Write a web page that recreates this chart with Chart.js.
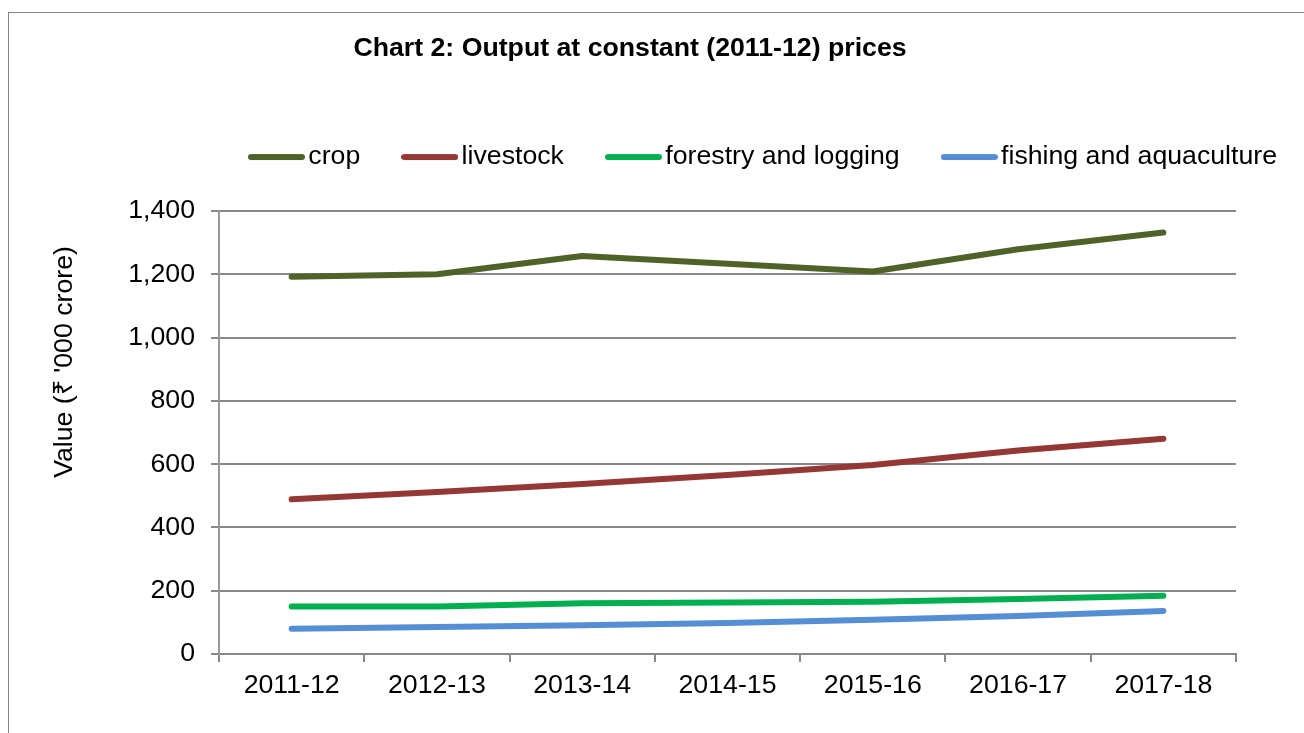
<!DOCTYPE html>
<html><head><meta charset="utf-8">
<script src="https://cdn.jsdelivr.net/npm/chart.js@4"></script>
<style>
html,body{margin:0;padding:0;background:#fff;overflow:hidden}
#wrap{position:relative;width:1304px;height:733px}
#frame{position:absolute;left:8px;top:12px;width:1400px;height:800px;border:1px solid #868686;box-sizing:border-box}
canvas{position:absolute;left:0;top:0}
</style></head><body>
<div id="wrap"><div id="frame"></div><canvas id="c" width="1304" height="733"></canvas></div>
<script>
const titleText = 'Chart 2: Output at constant (2011-12) prices';
const yAxisTitle = "Value (\u20B9 '000 crore)";
const categories = ['2011-12', '2012-13', '2013-14', '2014-15', '2015-16', '2016-17', '2017-18'];
const seriesNames = ['crop', 'livestock', 'forestry and logging', 'fishing and aquaculture'];
const crop = [1192, 1200, 1258, 1233, 1209, 1279, 1332];
const livestock = [489, 512, 537, 566, 597, 643, 680];
const forestry = [150, 150, 160, 163, 165, 174, 184];
const fishing = [80, 85, 91, 98, 108, 120, 136];
const yTicks = [0, 200, 400, 600, 800, 1000, 1200, 1400];
const seriesColors = ['#4F6228', '#953735', '#00B050', '#558ED5'];

const FONT = '"Liberation Sans", Arial, sans-serif';
const FS = 26.7;

function swatch(color) {
  const c = document.createElement('canvas');
  c.width = 57; c.height = 8;
  const g = c.getContext('2d');
  g.strokeStyle = color;
  g.lineWidth = 6;
  g.lineCap = 'round';
  g.beginPath();
  g.moveTo(3, 4);
  g.lineTo(54, 4);
  g.stroke();
  return c;
}

const placeBoxes = {
  id: 'placeBoxes',
  afterLayout(chart) {
    const t = chart.titleBlock;
    if (t) { t.left += 12; t.right += 12; t.top += 1; t.bottom += 1; }
    const l = chart.legend;
    if (l) { l.left += 207; l.right += 207; l.top -= 30.6; l.bottom -= 30.6; }
  },
  afterDraw(chart) {
    const ctx = chart.ctx;
    ctx.save();
    ctx.translate(65, 362);
    ctx.rotate(-Math.PI / 2);
    ctx.font = FS + 'px ' + FONT;
    ctx.fillStyle = '#000';
    ctx.textAlign = 'center';
    ctx.textBaseline = 'middle';
    ctx.fillText(yAxisTitle, 0, 0);
    ctx.restore();
  }
};

const allSeries = [crop, livestock, forestry, fishing];
const datasets = allSeries.map((vals, i) => ({
  label: seriesNames[i],
  data: vals,
  borderColor: seriesColors[i],
  backgroundColor: seriesColors[i],
  borderWidth: 6,
  pointRadius: 0,
  pointHoverRadius: 0,
  borderCapStyle: 'round',
  borderJoinStyle: 'round',
  tension: 0,
  fill: false
}));

new Chart(document.getElementById('c'), {
  type: 'line',
  data: { labels: categories, datasets },
  options: {
    responsive: false,
    animation: false,
    devicePixelRatio: 1,
    layout: { padding: { top: 0, left: 0, right: 68, bottom: 0 } },
    plugins: {
      title: {
        display: true,
        text: titleText,
        color: '#000',
        font: { family: FONT, size: FS, weight: 'bold' },
        padding: { top: 31.98, bottom: 59.28 }
      },
      legend: {
        display: true,
        position: 'top',
        align: 'start',
        labels: {
          color: '#000',
          font: { family: FONT, size: FS },
          usePointStyle: true,
          pointStyleWidth: 37,
          boxWidth: 37,
          boxHeight: 6,
          padding: 51,
          generateLabels(chart) {
            return chart.data.datasets.map((ds, i) => ({
              text: ds.label,
              fillStyle: ds.borderColor,
              strokeStyle: ds.borderColor,
              lineWidth: 0,
              hidden: false,
              datasetIndex: i,
              pointStyle: swatch(ds.borderColor)
            }));
          }
        }
      },
      tooltip: { enabled: false }
    },
    scales: {
      x: {
        type: 'category',
        offset: true,
        afterFit(scale) { scale.height = 79; },
        grid: { display: true, drawOnChartArea: false, drawTicks: true, tickLength: 8, color: '#888', lineWidth: 2, offset: true },
        border: { display: true, color: '#888', width: 2 },
        ticks: { color: '#000', font: { family: FONT, size: FS }, padding: 8, maxRotation: 0, autoSkip: false }
      },
      y: {
        min: 0,
        max: 1400,
        afterFit(scale) { scale.width = 219; },
        afterBuildTicks(scale) { scale.ticks = yTicks.map(v => ({ value: v })); },
        grid: { color: '#888', lineWidth: 2, tickLength: 8, drawTicks: true },
        border: { display: true, color: '#999', width: 2 },
        ticks: {
          color: '#000',
          font: { family: FONT, size: FS },
          padding: 16,
          callback: (v) => Number(v).toLocaleString('en-US')
        }
      }
    }
  },
  plugins: [placeBoxes]
});
</script>
</body></html>
